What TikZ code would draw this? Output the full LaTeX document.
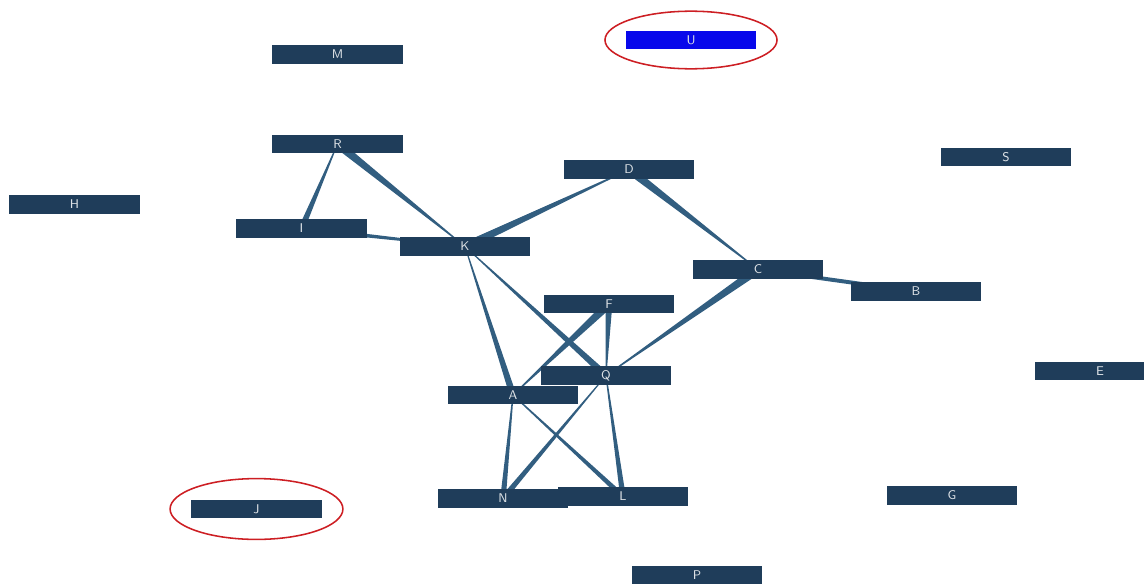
\documentclass[tikz,border=0pt]{standalone}
\usepackage{tikz}
\usetikzlibrary{positioning, calc, backgrounds}

\definecolor{boxblue}{RGB}{31,61,90}
\definecolor{linkblue}{RGB}{50,94,128}
\definecolor{ringred}{RGB}{205,30,35}
\definecolor{selblue}{RGB}{8,8,235}

% tapered link: half width #3 at node #1, half width #4 at node #2
\newcommand{\taper}[4]{%
  \fill[linkblue] ($(#1.center)!#3!90:(#2.center)$) -- ($(#1.center)!#3!-90:(#2.center)$)
    -- ($(#2.center)!#4!90:(#1.center)$) -- ($(#2.center)!#4!-90:(#1.center)$) -- cycle;}

\begin{document}
\begin{tikzpicture}[x=0.025cm, y=-0.025cm,
    box/.style={fill=boxblue, text=white!85!boxblue, minimum width=3.25cm,
      minimum height=0.47cm, inner sep=0pt, font=\sffamily\small},
    ring/.style={draw=ringred, line width=1.1pt}]
  \useasboundingbox (0,0) rectangle (1144,585);
  % Nodes
  \node[box, fill=selblue] (U) at (691,40) {U};
  \node[box] (M) at (337.5,54.5) {M};
  \node[box] (R) at (337.5,144) {R};
  \node[box] (S) at (1006,157) {S};
  \node[box] (D) at (629,169.5) {D};
  \node[box] (H) at (74.5,204.5) {H};
  \node[box] (I) at (301.5,228.5) {I};
  \node[box] (K) at (465,246.5) {K};
  \node[box] (C) at (758,269.5) {C};
  \node[box] (B) at (916,291.5) {B};
  \node[box] (F) at (609,304) {F};
  \node[box] (E) at (1100,371) {E};
  \node[box] (Q) at (606,375.5) {Q};
  \node[box] (A) at (513,395) {A};
  \node[box] (L) at (623,496.5) {L};
  \node[box] (N) at (503,498.5) {N};
  \node[box] (G) at (952,495.5) {G};
  \node[box] (J) at (256.5,509) {J};
  \node[box] (P) at (697,575) {P};
  % Highlight rings
  \draw[ring] (U.center) ellipse [x radius=2.15cm, y radius=0.72cm];
  \draw[ring] (J.center) ellipse [x radius=2.16cm, y radius=0.76cm];
  % Links
  \begin{pgfonlayer}{background}
    \taper{I}{R}{2.2pt}{0.3pt}
    \taper{R}{K}{3pt}{0.3pt}
    \taper{I}{K}{1.7pt}{0.6pt}
    \taper{K}{D}{3pt}{0.3pt}
    \taper{D}{C}{3pt}{0.3pt}
    \taper{C}{B}{1.4pt}{1.4pt}
    \taper{C}{Q}{3pt}{0.3pt}
    \taper{F}{A}{3pt}{0.3pt}
    \taper{Q}{K}{2.4pt}{0.3pt}
    \taper{A}{K}{2.4pt}{0.3pt}
    \taper{F}{Q}{2.4pt}{0.3pt}
    \taper{N}{A}{2pt}{0.4pt}
    \taper{L}{A}{1.8pt}{0.4pt}
    \taper{N}{Q}{2pt}{0.3pt}
    \taper{L}{Q}{2pt}{0.4pt}
  \end{pgfonlayer}
\end{tikzpicture}
\end{document}
